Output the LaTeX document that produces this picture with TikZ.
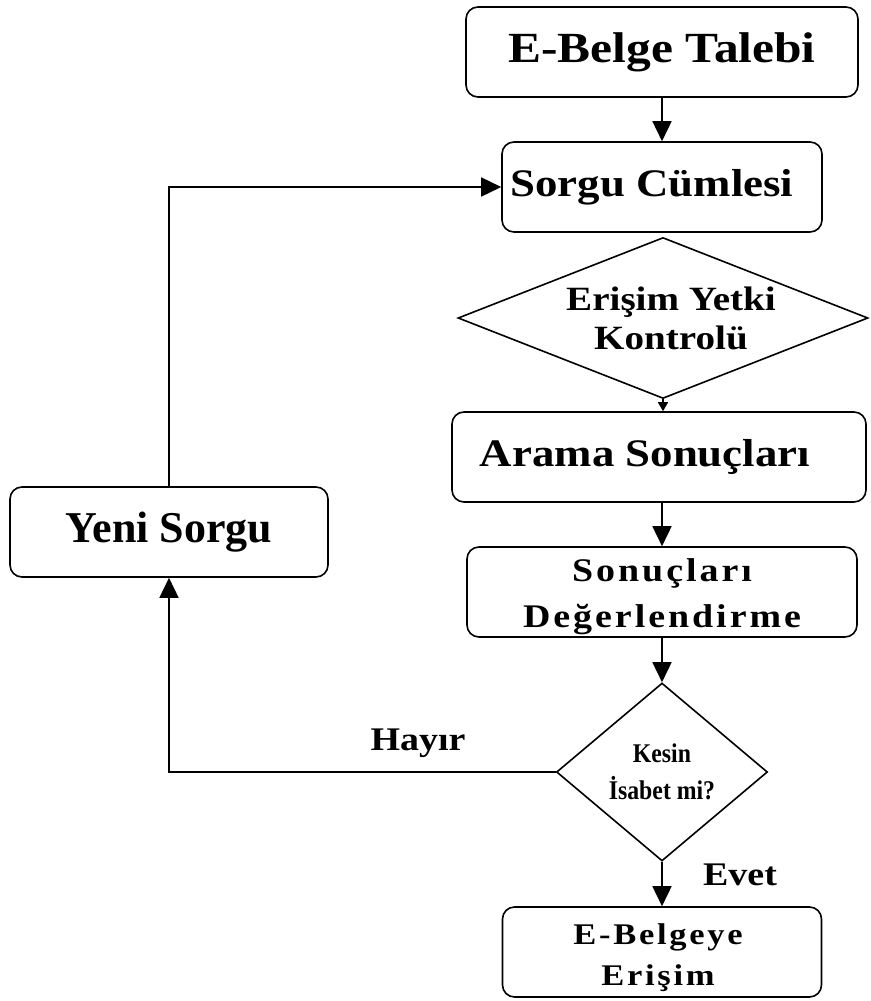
\documentclass[tikz,border=0pt]{standalone}
\usepackage{fontspec}
\usetikzlibrary{shapes.geometric,arrows.meta}
\setmainfont{Liberation Serif}
\newfontfamily\wideserif{Liberation Serif}[FakeStretch=1.15]
\newfontfamily\spacedserif{Liberation Serif}[FakeStretch=1.15,LetterSpace=9]
\newfontfamily\narrowserif{Liberation Serif}[FakeStretch=0.88]
\begin{document}
\begin{tikzpicture}[x=1pt,y=-1pt,line width=1.6pt,
  box/.style={draw,rounded corners=12pt,inner sep=0pt,minimum height=90pt,align=center},
  decision/.style={draw,diamond,inner sep=0pt,align=center},
  flow/.style={-{Triangle[width=19pt,length=20pt]}},
  flowsmall/.style={-{Triangle[width=10pt,length=9pt]}},
  lbl/.style={font=\wideserif\bfseries\fontsize{33}{38}\selectfont,inner sep=0pt}]
\useasboundingbox (0,0) rectangle (870,1001);

% process boxes
\node[box,minimum width=392pt,font=\wideserif\bfseries\fontsize{43}{50}\selectfont]
  (talep) at (662,52) {E-Belge Talebi};
\node[box,minimum width=320pt,
  label={[xshift=-10pt,inner sep=0pt,font=\wideserif\bfseries\fontsize{39}{45}\selectfont]center:Sorgu Cümlesi}]
  (sorgu) at (662,187) {};
\node[decision,aspect=2.55,minimum width=410pt,minimum height=161pt,
  font=\wideserif\bfseries\fontsize{34}{39}\selectfont] (yetki) at (663,318)
  {\hspace*{16pt}Erişim Yetki\\\hspace*{16pt}Kontrolü};
\node[box,minimum width=414pt,
  label={[xshift=-14pt,inner sep=0pt,font=\wideserif\bfseries\fontsize{39}{45}\selectfont]center:Arama Sonuçları}]
  (arama) at (659,457) {};
\node[box,minimum width=390pt,
  label={[yshift=-5pt,inner sep=0pt,align=center,font=\spacedserif\bfseries\fontsize{33}{46}\selectfont]center:Sonuçları\\Değerlendirme}]
  (deger) at (662,592) {};
\node[decision,aspect=1.19,minimum width=211pt,minimum height=178pt,
  font=\narrowserif\bfseries\fontsize{27}{37}\selectfont] (isabet) at (662,772)
  {Kesin\\İsabet mi?};
\node[box,minimum width=319pt,
  label={[xshift=-4pt,yshift=-6pt,inner sep=0pt,align=center,font=\spacedserif\bfseries\fontsize{30}{41}\selectfont]center:E-Belgeye\\Erişim}]
  (erisim) at (662,952) {};
\node[box,minimum width=318pt,font=\bfseries\fontsize{44}{50}\selectfont]
  (yeni) at (169,532) {Yeni Sorgu};

% connectors
\draw[flow] (talep) -- (sorgu);
\draw[flowsmall] (yetki.south) -- (yetki.south |- arama.north);
\draw[flow] (arama.south -| deger.north) -- (deger.north);
\draw[flow] (deger) -- (isabet);
\draw[flow] (isabet) -- (erisim);
\draw[flow] (isabet.west) -| (yeni.south);
\draw[flow] (yeni.north) |- (sorgu.west);

% branch labels
\node[lbl] (hayir) at (418,743) {Hayır};
\node[lbl] (evet) at (740,875) {Evet};
\end{tikzpicture}
\end{document}
